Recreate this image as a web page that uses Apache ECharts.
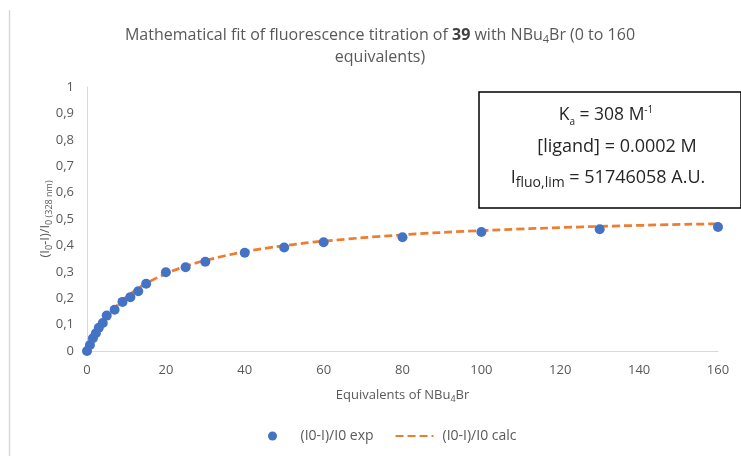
<!DOCTYPE html>
<html>
<head>
<meta charset="utf-8">
<script src="https://cdn.jsdelivr.net/npm/echarts@6/dist/echarts.min.js"></script>
<style>
html,body{margin:0;padding:0;background:#fff;}
#chart{width:741px;height:456px;}
</style>
</head>
<body>
<div id="chart"></div>
<script>
// Equivalents of NBu4Br
const equivalents = [0, 0.75, 1.5, 2.25, 3, 4, 5, 7, 9, 11, 13, 15, 20, 25, 30, 40, 50, 60, 80, 100, 130, 160];
// (I0-I)/I0 experimental
const expValues = [0, 0.023, 0.048, 0.067, 0.088, 0.106, 0.134, 0.156, 0.186, 0.204, 0.226, 0.255, 0.298, 0.317, 0.338, 0.372, 0.392, 0.412, 0.431, 0.451, 0.461, 0.470];
// (I0-I)/I0 calculated (fit)
const calcValues = [0, 0.023, 0.045, 0.065, 0.083, 0.105, 0.126, 0.162, 0.192, 0.216, 0.238, 0.256, 0.293, 0.321, 0.343, 0.376, 0.399, 0.416, 0.440, 0.456, 0.472, 0.482];
const xTicks = [0, 20, 40, 60, 80, 100, 120, 140, 160];
const yTicks = [0, 0.1, 0.2, 0.3, 0.4, 0.5, 0.6, 0.7, 0.8, 0.9, 1];
const seriesNames = ['(I0-I)/I0 exp', '(I0-I)/I0 calc'];

const FONT = '"Open Sans", "Noto Sans", sans-serif';
const GREY = '#595959';

const expData = equivalents.map((x, i) => [x, expValues[i]]);
const calcData = equivalents.map((x, i) => [x, calcValues[i]]);

const chart = echarts.init(document.getElementById('chart'), null, {renderer: 'canvas'});
chart.setOption({
  animation: false,
  backgroundColor: '#fff',
  grid: {left: 87, right: 23, top: 87, bottom: 105, containLabel: false},
  xAxis: {
    type: 'value', min: xTicks[0], max: xTicks[xTicks.length - 1], interval: 20,
    axisLine: {show: true, lineStyle: {color: '#d9d9d9', width: 1}},
    axisTick: {show: false},
    splitLine: {show: false},
    axisLabel: {color: GREY, fontSize: 13, fontFamily: FONT, margin: 13},
    name: '{n|Equivalents of NBu}{s|4}{n|Br}',
    nameLocation: 'middle', nameGap: 35, nameMoveOverlap: false,
    nameTextStyle: {
      color: GREY, fontFamily: FONT,
      rich: {
        n: {fontSize: 13, lineHeight: 18, color: GREY, fontFamily: FONT},
        s: {fontSize: 9, lineHeight: 9, verticalAlign: 'bottom', color: GREY, fontFamily: FONT}
      }
    }
  },
  yAxis: {
    type: 'value', min: yTicks[0], max: yTicks[yTicks.length - 1], interval: 0.1,
    axisLine: {show: true, lineStyle: {color: '#d9d9d9', width: 1}},
    axisTick: {show: false},
    splitLine: {show: false},
    axisLabel: {color: GREY, fontSize: 13, fontFamily: FONT, margin: 13,
      formatter: v => String(Math.round(v * 10) / 10).replace('.', ',')},
    name: '{n|(I}{s|0}{n|-I)/I}{s|0 (328 nm)}',
    nameLocation: 'middle', nameGap: 33, nameRotate: 90, nameMoveOverlap: false,
    nameTextStyle: {
      color: GREY, fontFamily: FONT,
      rich: {
        n: {fontSize: 13, lineHeight: 18, color: GREY, fontFamily: FONT},
        s: {fontSize: 9, lineHeight: 9, verticalAlign: 'bottom', color: GREY, fontFamily: FONT}
      }
    }
  },
  legend: {
    left: 263, bottom: 8,
    itemWidth: 38, itemHeight: 9, itemGap: 21,
    data: [
      {name: seriesNames[0], icon: 'circle'},
      {name: seriesNames[1], itemStyle: {opacity: 0}}
    ],
    textStyle: {color: GREY, fontSize: 14, fontFamily: FONT, padding: [0, 0, 0, 4]}
  },
  series: [
    {
      name: seriesNames[1], type: 'line', data: calcData,
      smooth: 0.4, showSymbol: false, symbol: 'none', z: 2,
      lineStyle: {color: '#ED7D31', width: 2.75, type: [8, 4]},
      itemStyle: {color: '#ED7D31'}
    },
    {
      name: seriesNames[0], type: 'scatter', data: expData,
      symbol: 'circle', symbolSize: 10, z: 3,
      itemStyle: {color: '#4472C4', opacity: 1}
    }
  ],
  graphic: [
    {type: 'line', shape: {x1: 9.5, y1: 10, x2: 9.5, y2: 456}, style: {stroke: '#d9d9d9', lineWidth: 1.5}, silent: true},
    {
      type: 'text', x: 380, y: 24,
      style: {
        text: '{n|Mathematical fit of fluorescence titration of }{b|39}{n| with NBu}{s|4}{n|Br (0 to 160}\n{n|equivalents)}',
        align: 'center', verticalAlign: 'top', fill: GREY, font: '16px ' + FONT,
        rich: {
          n: {fontSize: 16, lineHeight: 22, fill: GREY, fontFamily: FONT},
          b: {fontSize: 16, lineHeight: 22, fontWeight: 'bold', fill: '#404040', fontFamily: FONT},
          s: {fontSize: 11, lineHeight: 11, verticalAlign: 'bottom', fill: GREY, fontFamily: FONT, padding: [0, 0, 1, 0]}
        }
      }
    },
    {type: 'rect', shape: {x: 479, y: 92, width: 262, height: 116}, style: {fill: '#fff', stroke: '#000', lineWidth: 1.5}, z: 10},
    {
      type: 'text', x: 606, y: 115, z: 11,
      style: {
        text: '{n|K}{s|a}{n| = 308 M}{p|-1}',
        align: 'center', verticalAlign: 'middle',
        rich: {
          n: {fontSize: 17.5, lineHeight: 24, fill: '#262626', fontFamily: FONT},
          s: {fontSize: 10, lineHeight: 10, verticalAlign: 'bottom', fill: '#262626', fontFamily: FONT},
          p: {fontSize: 10, lineHeight: 10, verticalAlign: 'top', fill: '#262626', fontFamily: FONT, padding: [2, 0, 0, 0]}
        }
      }
    },
    {
      type: 'text', x: 617, y: 147, z: 11,
      style: {
        text: '[ligand] = 0.0002 M',
        align: 'center', verticalAlign: 'middle', fill: '#262626', font: '18px ' + FONT
      }
    },
    {
      type: 'text', x: 608, y: 178, z: 11,
      style: {
        text: '{n|I}{s|fluo,lim}{n| = 51746058 A.U.}',
        align: 'center', verticalAlign: 'middle',
        rich: {
          n: {fontSize: 18, lineHeight: 24, fill: '#262626', fontFamily: FONT},
          s: {fontSize: 14, lineHeight: 12, verticalAlign: 'bottom', fill: '#262626', fontFamily: FONT}
        }
      }
    }
  ]
});
</script>
</body>
</html>
